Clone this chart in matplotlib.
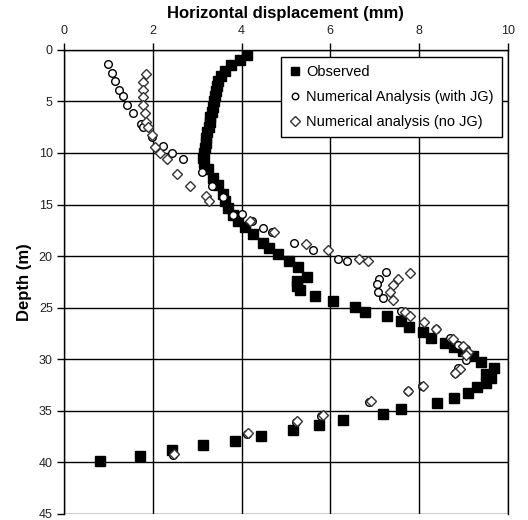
import matplotlib
matplotlib.use("Agg")
import matplotlib.pyplot as plt

plt.rcParams['font.family'] = ['Liberation Sans', 'DejaVu Sans']

# measured inclinometer profile
obs_depth = [0.5, 1.0, 1.5, 2.0, 2.5, 3.0, 3.5, 4.0, 4.5, 5.0, 5.5, 6.0, 6.5, 7.0,
             7.5, 8.0, 8.5, 9.0, 9.5, 10.0, 10.5, 11.0, 11.6, 12.4, 13.1, 14.0,
             14.7, 15.3, 16.0, 16.6, 17.2, 17.9, 18.7, 19.2, 19.8, 20.5, 21.1,
             22.0, 22.4, 22.9, 23.3, 23.9, 24.4, 24.9, 25.4, 25.8, 26.3, 26.9,
             27.4, 27.9, 28.4, 28.8, 29.2, 29.7, 30.3, 30.9, 31.4, 31.8, 32.3,
             32.7, 33.3, 33.8, 34.3, 34.8, 35.3, 35.9, 36.4, 36.9, 37.5, 37.9,
             38.3, 38.8, 39.4, 39.9]
obs_disp = [4.12, 3.96, 3.76, 3.62, 3.54, 3.48, 3.44, 3.42, 3.40, 3.38, 3.36,
            3.33, 3.30, 3.28, 3.26, 3.23, 3.21, 3.19, 3.17, 3.15, 3.14, 3.16,
            3.24, 3.36, 3.47, 3.58, 3.63, 3.70, 3.81, 3.92, 4.08, 4.26, 4.48,
            4.62, 4.82, 5.07, 5.27, 5.47, 5.25, 5.26, 5.32, 5.65, 6.06, 6.55,
            6.78, 7.27, 7.59, 7.77, 8.09, 8.27, 8.58, 8.78, 8.99, 9.21, 9.39,
            9.68, 9.50, 9.62, 9.50, 9.30, 9.10, 8.78, 8.40, 7.59, 7.18, 6.28,
            5.74, 5.16, 4.44, 3.85, 3.13, 2.43, 1.71, 0.81]

# numerical analysis with jet grouting
jg_depth = [1.4, 2.2, 3.0, 3.9, 4.5, 5.3, 6.1, 7.2, 7.5, 8.4, 9.3, 10.0, 10.6,
            11.8, 13.2, 14.3, 16.0, 15.9, 16.6, 17.3, 17.7, 18.7, 19.4, 20.3,
            20.5, 21.5, 22.2, 22.7, 23.5, 24.1, 25.3, 27.1, 27.9, 28.6, 29.0,
            29.5, 30.1, 30.9, 31.3, 32.6, 33.1, 34.2, 35.5, 36.1, 37.3, 39.3]
jg_disp = [0.99, 1.08, 1.15, 1.24, 1.33, 1.42, 1.55, 1.73, 1.78, 1.98, 2.23,
           2.43, 2.68, 3.10, 3.33, 3.58, 3.81, 4.00, 4.23, 4.48, 4.68, 5.18,
           5.60, 6.17, 6.37, 7.25, 7.09, 7.05, 7.07, 7.18, 7.59, 8.38, 8.69,
           8.87, 9.05, 9.10, 9.05, 8.87, 8.81, 8.06, 7.75, 6.87, 5.80, 5.22,
           4.12, 2.46]

# numerical analysis without jet grouting
nojg_depth = [2.3, 3.1, 3.9, 4.6, 5.3, 6.1, 7.0, 7.5, 8.3, 9.4, 10.0, 10.6,
              12.0, 13.2, 14.2, 14.7, 16.6, 17.7, 18.8, 19.4, 20.3, 20.5, 21.6,
              22.2, 22.8, 23.5, 24.3, 25.4, 25.8, 26.4, 27.1, 28.0, 28.7, 29.3,
              29.6, 31.0, 31.3, 32.6, 33.1, 34.1, 35.4, 36.0, 37.2, 39.2]
nojg_disp = [1.85, 1.78, 1.78, 1.78, 1.78, 1.82, 1.85, 1.89, 1.98, 2.05, 2.16,
             2.32, 2.55, 2.84, 3.20, 3.27, 4.19, 4.73, 5.45, 5.95, 6.64, 6.84,
             7.79, 7.52, 7.41, 7.34, 7.41, 7.68, 7.79, 8.11, 8.38, 8.76, 8.99,
             9.10, 9.05, 8.92, 8.81, 8.09, 7.75, 6.91, 5.83, 5.25, 4.14, 2.48]

fig = plt.figure(figsize=(5.28, 5.20), dpi=100)
ax = fig.add_axes([0.121, 0.012, 0.841, 0.892])

ax.plot(obs_disp, obs_depth, ls='none', marker='s', ms=6.5, mfc='black',
        mec='black', label='Observed', zorder=3)
ax.plot(jg_disp, jg_depth, ls='none', marker='o', ms=5.5, mfc='white',
        mec='black', mew=1.0, label='Numerical Analysis (with JG)', zorder=4)
ax.plot(nojg_disp, nojg_depth, ls='none', marker='D', ms=5.5, mfc='white',
        mec='#333333', mew=1.0, label='Numerical analysis (no JG)', zorder=4)

ax.set_xlim(0, 10)
ax.set_ylim(45, 0)
ax.set_xticks(range(0, 11, 2))
ax.set_yticks(range(0, 46, 5))
ax.xaxis.tick_top()
ax.xaxis.set_label_position('top')
ax.tick_params(axis='both', direction='out', length=5, width=1,
               labelsize=9, color='black', labelcolor='#222222', pad=3)
ax.tick_params(axis='x', pad=4)
ax.grid(True, color='black', lw=1)
ax.set_axisbelow(True)
ax.spines['bottom'].set_visible(False)
for s in ['top', 'left', 'right']:
    ax.spines[s].set_linewidth(1)

ax.set_xlabel('Horizontal displacement (mm)', fontsize=12, fontweight='bold',
              labelpad=5)
ax.set_ylabel('Depth (m)', fontsize=12, fontweight='bold', labelpad=5)

leg = ax.legend(loc='upper right', bbox_to_anchor=(0.986, 0.985),
                borderaxespad=0, fontsize=10.5, fancybox=False, framealpha=1,
                edgecolor='black', handlelength=0.8, handletextpad=0.4,
                labelspacing=0.75, borderpad=0.55, markerscale=0.85)
leg.get_frame().set_linewidth(1)

fig.savefig('out.png', dpi=100)
